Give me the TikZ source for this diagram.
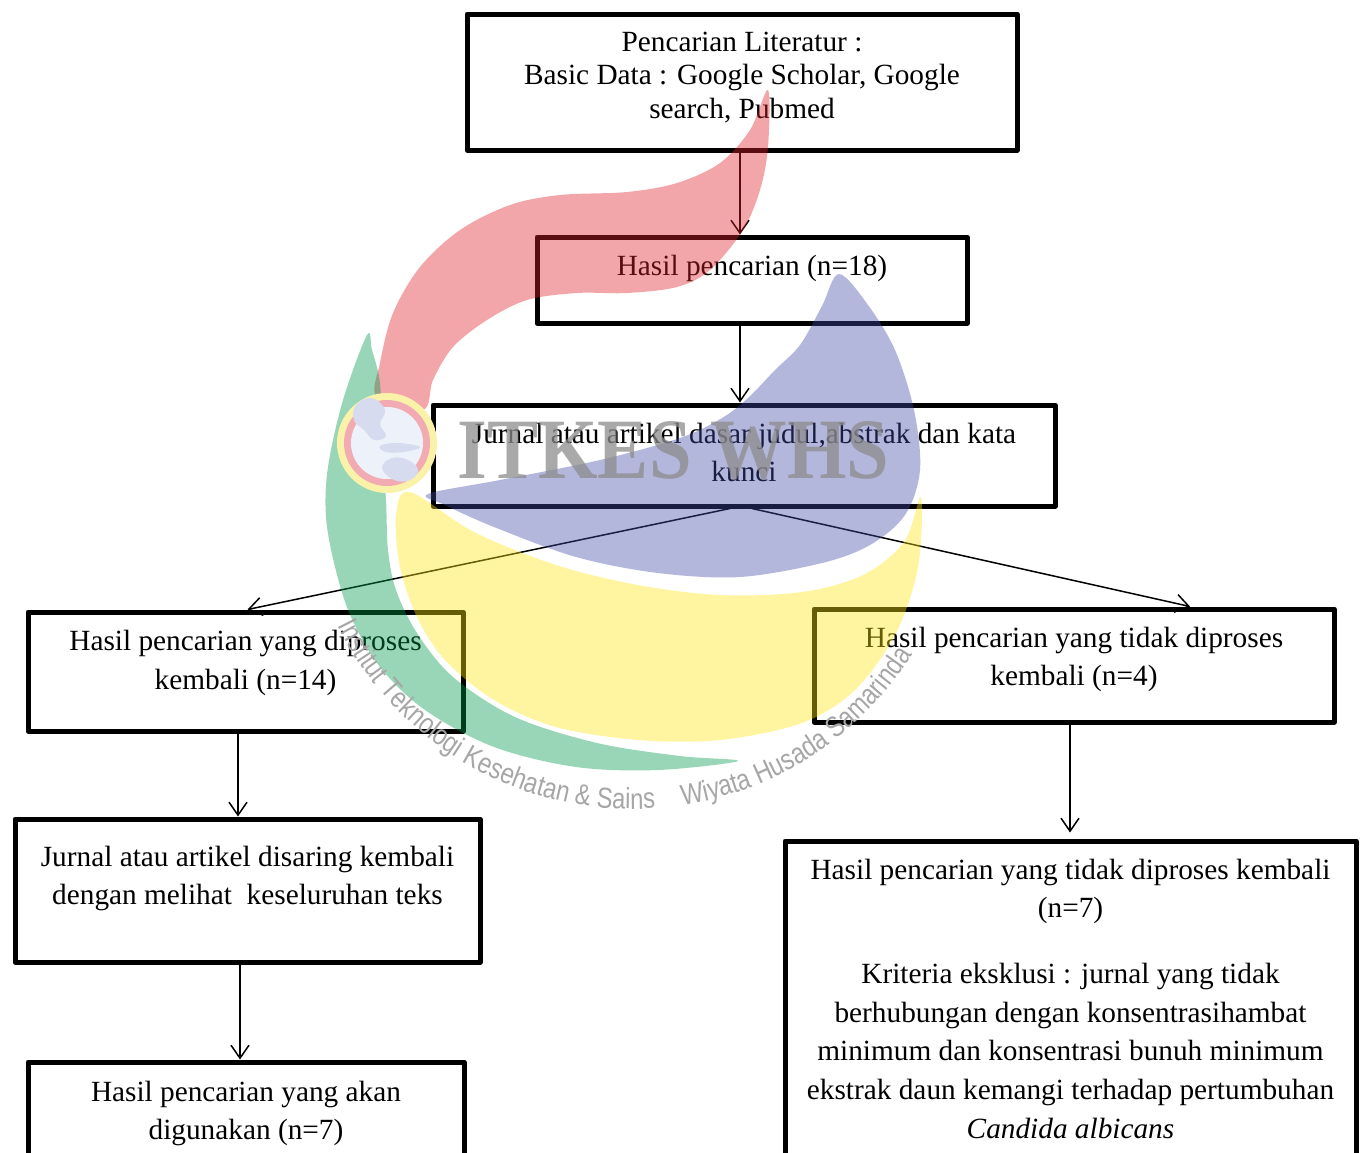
\documentclass[tikz,border=0pt]{standalone}
\usepackage{fontspec}
\usepackage{graphicx}
\setmainfont{Liberation Serif}
\newfontfamily\sealfont[FakeStretch=0.82]{Liberation Sans}
\usetikzlibrary{arrows.meta,decorations.text}
\definecolor{rrmark}{rgb}{0.88,0.13,0.16}
\definecolor{bbmark}{rgb}{0.26,0.29,0.65}
\definecolor{yymark}{rgb}{1.0,0.9,0.07}
\definecolor{ggmark}{rgb}{0.0,0.6,0.29}
\definecolor{globefill}{rgb}{0.93,0.95,0.98}
\definecolor{globering}{rgb}{0.95,0.67,0.7}
\definecolor{globehalo}{rgb}{0.98,0.95,0.66}
\definecolor{globeland}{rgb}{0.84,0.86,0.94}
\newcommand{\flowtext}[4]{\parbox[c][#2][t]{#1}{\centering\rule{0pt}{#3}#4}}

\begin{document}
\begin{tikzpicture}[line cap=round,line join=round,>={Straight Barb[length=13pt,width=18pt]},x=1pt,y=-1pt,
  box/.style={draw,line width=5pt,inner sep=0pt,font=\fontsize{29.3}{38.6}\selectfont},
  link/.style={->,line width=1.5pt},
  wmark/.style={opacity=0.4}]
\useasboundingbox (0,0) rectangle (1364,1152);
\clip (0,0) rectangle (1364,1152);
\node[box,font=\fontsize{29.3}{33.7}\selectfont] (search) at (742,82) {\flowtext{550pt}{136pt}{37pt}{Pencarian Literatur :\\Basic Data : Google Scholar, Google\\search, Pubmed}};
\node[box] (found) at (752,280) {\flowtext{430pt}{86pt}{38pt}{Hasil pencarian (n=18)}};
\node[box] (screen) at (744,455.5) {\flowtext{622pt}{101pt}{38pt}{Jurnal atau artikel dasar judul,abstrak dan kata\\kunci}};
\node[box] (kept) at (245.5,671.5) {\flowtext{435pt}{119pt}{38.5pt}{Hasil pencarian yang diproses\\kembali (n=14)}};
\node[box] (dropped) at (1074,665.5) {\flowtext{520pt}{113pt}{38pt}{Hasil pencarian yang tidak diproses\\kembali (n=4)}};
\node[box] (fulltext) at (247.5,890.5) {\flowtext{465pt}{143pt}{47pt}{Jurnal atau artikel disaring kembali\\dengan melihat\ \ keseluruhan teks}};
\node[box] (excluded) at (1070.5,1020.5) {\flowtext{571pt}{359pt}{38pt}{Hasil pencarian yang tidak diproses kembali\\(n=7)\\[27.5pt]Kriteria eksklusi : jurnal yang tidak\\berhubungan dengan konsentrasihambat\\minimum dan konsentrasi bunuh minimum\\ekstrak daun kemangi terhadap pertumbuhan\\\textit{Candida albicans}}};
\node[box] (used) at (246,1131) {\flowtext{436pt}{138pt}{39pt}{Hasil pencarian yang akan\\digunakan (n=7)}};
\draw[link] ([xshift=-2pt]search.south) -- ([xshift=-2pt]search.south |- found.north);
\draw[link] ([xshift=-12pt]found.south) -- ([xshift=-12pt]found.south |- screen.north);
\draw[link] ([xshift=-14pt]screen.south) -- ([xshift=2pt]kept.north);
\draw[link] ([xshift=8pt]screen.south) -- ([xshift=116pt]dropped.north);
\draw[link] ([xshift=-7.5pt]kept.south) -- ([xshift=-7.5pt]kept.south |- fulltext.north);
\draw[link] ([xshift=-4pt]dropped.south) -- ([xshift=-4pt,yshift=6pt]dropped.south |- excluded.north);
\draw[link] ([xshift=-7.5pt]fulltext.south) -- ([xshift=-7.5pt]fulltext.south |- used.north);
\fill[rrmark,wmark] plot[smooth cycle,tension=0.55] coordinates {(768,90) (750,130) (720,163) (677,183) (627,192) (560,195) (510,205) (460,230) (420,267) (393,313) (380,363) (377,397) (423,410) (433,380) (453,347) (487,320) (527,300) (577,293) (627,293) (677,287) (710,270) (743,230) (760,190) (768,147)};
\fill[bbmark,wmark] plot[smooth cycle,tension=0.55] coordinates {(839,274) (868,305) (895,350) (914,410) (920,470) (905,515) (870,545) (822,563) (740,577) (658,573) (576,557) (494,527) (445,505) (428,494) (500,480) (600,460) (680,438) (722,418) (748,398) (775,370) (800,345) (822,306)};
\fill[yymark,wmark] plot[smooth cycle,tension=0.55] coordinates {(410,492) (474,532) (556,565) (638,585) (720,595) (802,592) (863,575) (904,542) (921,497) (918,567) (896,633) (855,690) (802,723) (720,740) (638,740) (556,727) (494,700) (445,660) (417,617) (400,567) (396,515)};
\fill[ggmark,wmark] plot[smooth cycle,tension=0.55] coordinates {(367,335) (343,400) (328,467) (326,517) (335,567) (351,617) (380,667) (425,710) (494,747) (576,767) (658,770) (738,761) (680,756) (597,743) (515,717) (453,677) (417,633) (396,590) (388,550) (386,500) (382,440) (380,383) (372,350)};
\fill[globehalo] (387,443) circle (50);
\fill[globering] (387,443) circle (43);
\fill[globefill] (387,443) circle (36);
\fill[globeland] plot[smooth cycle,tension=0.7] coordinates {(356,405) (372,398) (385,410) (380,424) (386,436) (374,440) (364,430) (354,420)};
\fill[globeland] plot[smooth cycle,tension=0.7] coordinates {(380,446) (398,443) (420,447) (404,452) (386,452)};
\fill[globeland] plot[smooth cycle,tension=0.7] coordinates {(382,468) (392,458) (408,460) (418,470) (410,480) (394,480)};
\node[anchor=base,inner sep=0pt,text=black!45,opacity=0.75,font=\fontsize{86}{86}\selectfont\bfseries] (itkes) at (673.5,478) {\scalebox{0.89}[1]{ITKES WHS}};
\path[decorate,decoration={text along path,text color=black!35,
  text={|\sealfont\fontsize{29}{29}\selectfont|Institut Teknologi Kesehatan {\&} Sains}}]
  (633,479) ++(153.6:330) arc[start angle=153.6,end angle=86.2,radius=330];
\path[decorate,decoration={text along path,text color=black!35,
  text={|\sealfont\fontsize{29}{29}\selectfont|Wiyata Husada Samarinda}}]
  (633,479) ++(81.3:330) arc[start angle=81.3,end angle=31.2,radius=330];
\end{tikzpicture}
\end{document}
